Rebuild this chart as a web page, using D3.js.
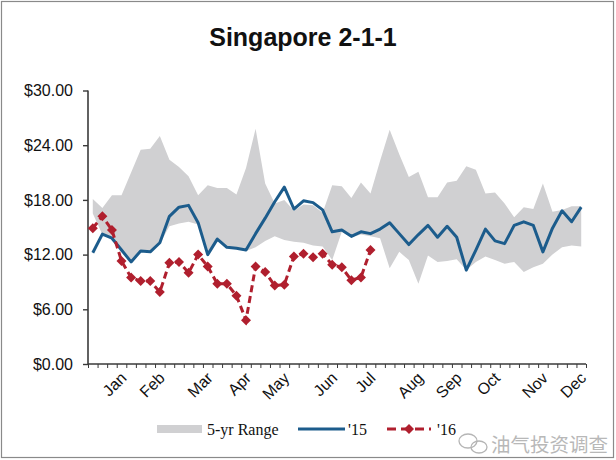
<!DOCTYPE html>
<html>
<head>
<meta charset="utf-8">
<script src="https://cdn.jsdelivr.net/npm/d3@7"></script>
<style>
  html, body { margin: 0; padding: 0; background: #fff; }
  svg { display: block; }
</style>
</head>
<body>
<svg id="chart" width="616" height="460"></svg>
<script>
// ---------------- DATA ----------------
const title = "Singapore 2-1-1";
const weeks = d3.range(52); // week index 0..51
const rangeHigh = [18.1, 17.1, 18.5, 18.5, 21.0, 23.5, 23.6, 25.0, 22.4, 21.6,
                   20.6, 18.5, 19.6, 19.3, 19.3, 18.6, 21.5, 25.8, 19.8, 17.6,
                   18.0, 16.8, 17.5, 17.4, 16.6, 19.6, 19.5, 18.2, 19.9, 18.7,
                   22.3, 25.7, 23.0, 20.5, 21.1, 18.3, 18.3, 19.9, 20.1, 21.7,
                   21.3, 18.7, 18.8, 17.6, 16.1, 17.2, 17.0, 19.8, 16.7, 16.9,
                   17.3, 17.3];
const rangeLow  = [16.5, 14.2, 13.8, 12.6, 11.3, 12.4, 12.3, 13.2, 15.1, 15.4,
                   15.6, 15.3, 12.1, 13.6, 12.8, 12.7, 12.4, 12.8, 13.5, 14.0,
                   13.6, 13.4, 13.3, 13.0, 12.9, 11.4, 14.5, 13.9, 14.2, 14.0,
                   13.8, 10.5, 12.3, 11.4, 8.8, 11.9, 11.2, 11.3, 11.5, 10.3,
                   11.2, 11.8, 11.4, 11.0, 11.2, 10.1, 10.6, 11.0, 12.0, 12.8,
                   13.0, 12.9];
const y2015 = [12.2, 14.25, 13.8, 12.5, 11.2, 12.4, 12.3, 13.3, 16.2, 17.2,
               17.4, 15.5, 12.0, 13.7, 12.8, 12.7, 12.5, 14.3, 16.0, 17.8,
               19.4, 17.0, 17.9, 17.7, 16.9, 14.5, 14.7, 14.0, 14.5, 14.3,
               14.8, 15.5, 14.3, 13.1, 14.2, 15.2, 13.9, 15.1, 13.9, 10.3,
               12.5, 14.8, 13.5, 13.2, 15.2, 15.6, 15.2, 12.3, 14.9, 16.8,
               15.6, 17.2];
const y2016 = [14.9, 16.2, 14.7, 11.3, 9.5, 9.1, 9.1, 7.9, 11.1, 11.2,
               10.0, 12.0, 10.7, 8.8, 8.8, 7.5, 4.8, 10.7, 10.1, 8.6,
               8.7, 11.8, 12.1, 11.7, 12.1, 10.9, 10.6, 9.2, 9.5, 12.5];
const yTicks = [0, 6, 12, 18, 24, 30];
const monthLabels = ["Jan","Feb","Mar","Apr","May","Jun","Jul","Aug","Sep","Oct","Nov","Dec"];
const monthWeek   = [3, 7, 12, 16, 20, 25, 29, 34, 38, 42, 47, 51];
const legendLabels = ["5-yr Range", "'15", "'16"];
const watermark = "油气投资调查";

// ---------------- STYLE ----------------
const C_BAND = "#d0d0d2", C_BLUE = "#1c5c8c", C_RED = "#b01f2e", C_AXIS = "#3a3a3a";
const svg = d3.select("#chart");

svg.append("rect").attr("x", 1.5).attr("y", 1.5).attr("width", 612).attr("height", 456)
  .attr("fill", "#fff").attr("stroke", "#8a8a8a").attr("stroke-width", 1.2);

const x = d3.scaleLinear().domain([0, 52]).range([88, 586]);
const y = d3.scaleLinear().domain([0, 30]).range([364, 90.5]);
const xc = i => x(i + 0.5);

// title
svg.append("text").attr("x", 303).attr("y", 46).attr("text-anchor", "middle")
  .attr("font-family", "Liberation Sans, Arial, sans-serif").attr("font-weight", "bold")
  .attr("font-size", 25).attr("fill", "#111").text(title);

// band
const area = d3.area().x((d, i) => xc(i)).y0((d, i) => y(rangeLow[i])).y1(d => y(d));
svg.append("path").datum(rangeHigh).attr("d", area).attr("fill", C_BAND);

// axes
const yAxis = d3.axisLeft(y).tickValues(yTicks).tickSize(5).tickFormat(d => "$" + d3.format(".2f")(d));
const gy = svg.append("g").attr("transform", "translate(88,0)").call(yAxis);
gy.select(".domain").attr("stroke", C_AXIS).attr("stroke-width", 1.6).attr("d", "M0,90.5V364");
gy.selectAll(".tick line").attr("stroke", C_AXIS).attr("stroke-width", 1.4);
gy.selectAll(".tick text").attr("x", -15).attr("font-family", "Liberation Sans, Arial, sans-serif")
  .attr("font-size", 16).attr("fill", "#111");

const xAxis = d3.axisBottom(x).tickValues(d3.range(53)).tickSize(4).tickFormat("");
const gx = svg.append("g").attr("transform", "translate(0,364)").call(xAxis);
gx.select(".domain").attr("stroke", C_AXIS).attr("stroke-width", 1.6).attr("d", "M88,0H586");
gx.selectAll(".tick line").attr("stroke", C_AXIS).attr("stroke-width", 1);

svg.append("g").selectAll("text").data(monthLabels).join("text")
  .attr("transform", (d, i) => `translate(${xc(monthWeek[i]) + 6},${379}) rotate(-45)`)
  .attr("text-anchor", "end")
  .attr("font-family", "Liberation Sans, Arial, sans-serif").attr("font-size", 16).attr("fill", "#111")
  .text(d => d);

// 2015 line
const line = d3.line().x((d, i) => xc(i)).y(d => y(d));
svg.append("path").datum(y2015).attr("d", line).attr("fill", "none")
  .attr("stroke", C_BLUE).attr("stroke-width", 3).attr("stroke-linejoin", "round");

// 2016 line
svg.append("path").datum(y2016).attr("d", line).attr("fill", "none")
  .attr("stroke", C_RED).attr("stroke-width", 3).attr("stroke-dasharray", "7,4");
const diamond = "M0,-5L5,0L0,5L-5,0Z";
svg.append("g").selectAll("path").data(y2016).join("path")
  .attr("transform", (d, i) => `translate(${xc(i)},${y(d)})`)
  .attr("d", diamond).attr("fill", C_RED);

// legend
const lg = svg.append("g").attr("font-family", "Liberation Serif, Times New Roman, serif")
  .attr("font-size", 16).attr("fill", "#111");
lg.append("rect").attr("x", 157).attr("y", 425).attr("width", 45).attr("height", 8).attr("fill", C_BAND);
lg.append("text").attr("x", 207).attr("y", 435).text(legendLabels[0]);
lg.append("line").attr("x1", 298).attr("x2", 345).attr("y1", 429).attr("y2", 429)
  .attr("stroke", C_BLUE).attr("stroke-width", 3);
lg.append("text").attr("x", 348).attr("y", 435).text(legendLabels[1]);
lg.append("line").attr("x1", 387).attr("x2", 431).attr("y1", 429).attr("y2", 429)
  .attr("stroke", C_RED).attr("stroke-width", 3).attr("stroke-dasharray", "9,5");
lg.append("path").attr("transform", "translate(409,429)").attr("d", diamond).attr("fill", C_RED);
lg.append("text").attr("x", 437).attr("y", 435).text(legendLabels[2]);

// watermark
const wm = svg.append("g").attr("fill", "none").attr("stroke", "#b5b5b5").attr("stroke-width", 1.3);
wm.append("ellipse").attr("cx", 468).attr("cy", 441).attr("rx", 9).attr("ry", 7);
wm.append("ellipse").attr("cx", 479).attr("cy", 447).attr("rx", 8).attr("ry", 6);
svg.append("text").attr("x", 491).attr("y", 452)
  .attr("font-family", "Noto Sans CJK SC, sans-serif").attr("font-size", 19.5)
  .attr("fill", "#b8b8b8").text(watermark);
</script>
</body>
</html>
